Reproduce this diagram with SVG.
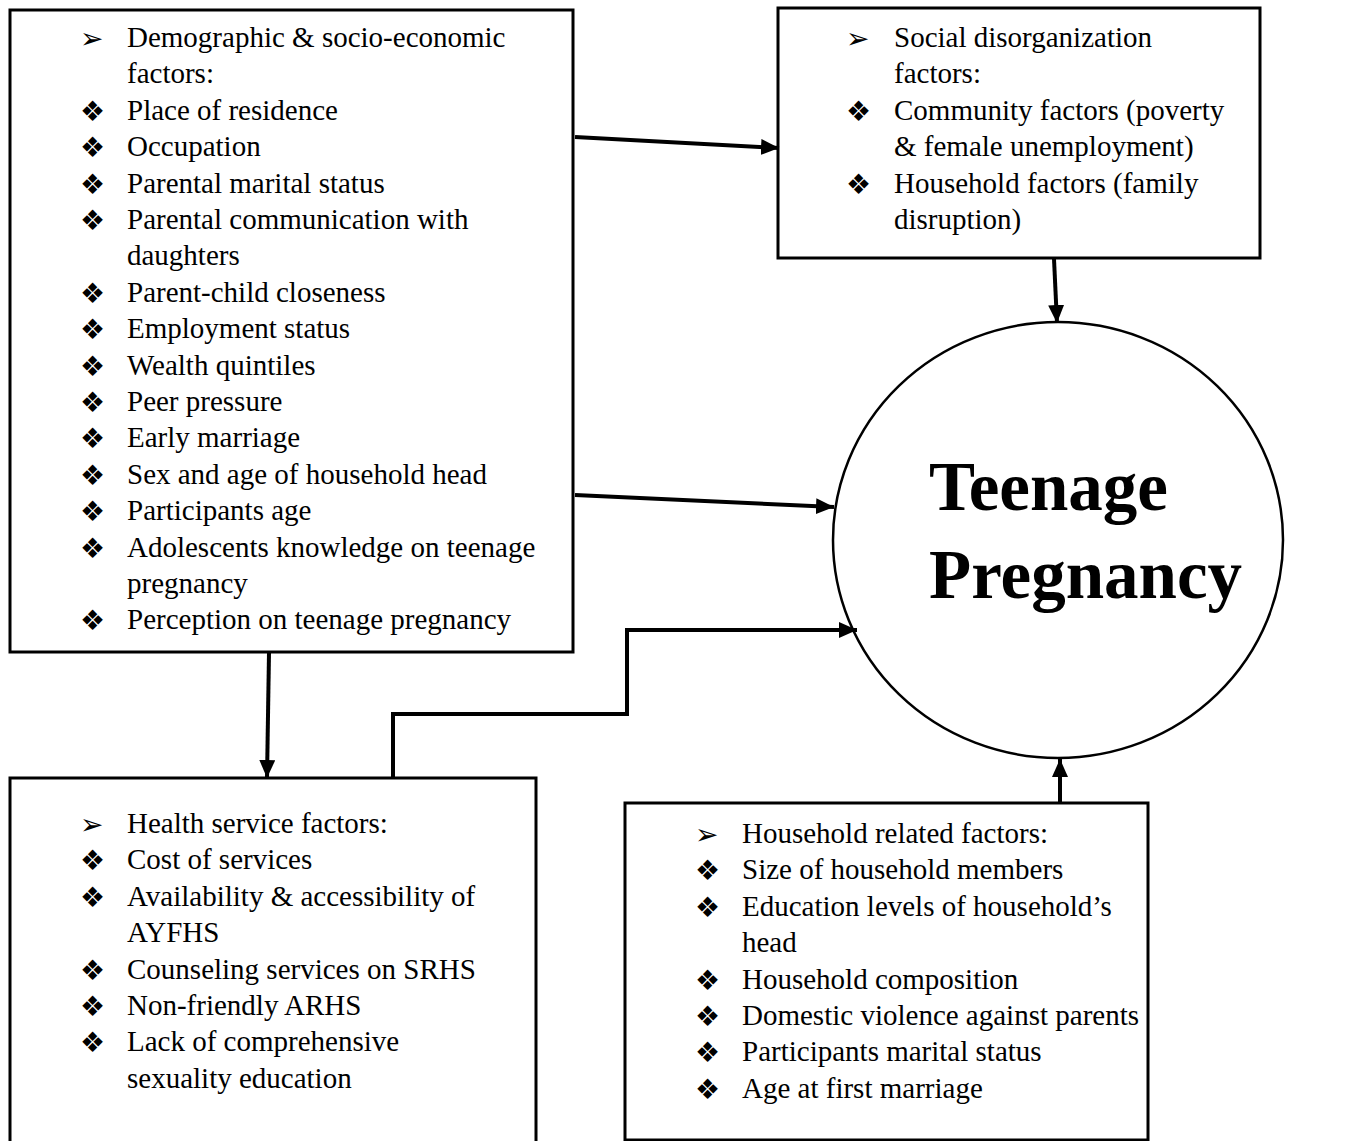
<svg xmlns="http://www.w3.org/2000/svg" width="1348" height="1141" viewBox="0 0 1348 1141">
<style>
.box{fill:#fff;stroke:#000;stroke-width:3}
.t{font-family:"Liberation Serif","Times New Roman",serif;font-size:29px;fill:#000}
.b{font-family:"DejaVu Sans",sans-serif;font-size:28px;fill:#000}
.title{font-family:"Liberation Serif","Times New Roman",serif;font-size:69px;font-weight:bold;fill:#000}
.con{fill:none;stroke:#000;stroke-width:4}
</style>
<defs>
<marker id="ah" markerUnits="userSpaceOnUse" markerWidth="20" markerHeight="16" refX="18" refY="8" orient="auto">
<path d="M0,0 L18,8 L0,16 Z" fill="#000"/>
</marker>
</defs>
<rect width="1348" height="1141" fill="#fff"/>
<g id="node-demographic">
<rect class="box" x="10" y="10" width="563" height="642"/>
<text class="b" x="80" y="48">➢</text>
<text class="t" x="127" y="47">Demographic &amp; socio-economic</text>
<text class="t" x="127" y="83.4">factors:</text>
<text class="b" x="80" y="120.8">❖</text><text class="t" x="127" y="119.8">Place of residence</text>
<text class="b" x="80" y="157.2">❖</text><text class="t" x="127" y="156.2">Occupation</text>
<text class="b" x="80" y="193.6">❖</text><text class="t" x="127" y="192.6">Parental marital status</text>
<text class="b" x="80" y="230">❖</text><text class="t" x="127" y="229">Parental communication with</text>
<text class="t" x="127" y="265.4">daughters</text>
<text class="b" x="80" y="302.8">❖</text><text class="t" x="127" y="301.8">Parent-child closeness</text>
<text class="b" x="80" y="339.2">❖</text><text class="t" x="127" y="338.2">Employment status</text>
<text class="b" x="80" y="375.6">❖</text><text class="t" x="127" y="374.6">Wealth quintiles</text>
<text class="b" x="80" y="412">❖</text><text class="t" x="127" y="411">Peer pressure</text>
<text class="b" x="80" y="448.4">❖</text><text class="t" x="127" y="447.4">Early marriage</text>
<text class="b" x="80" y="484.8">❖</text><text class="t" x="127" y="483.8">Sex and age of household head</text>
<text class="b" x="80" y="521.2">❖</text><text class="t" x="127" y="520.2">Participants age</text>
<text class="b" x="80" y="557.6">❖</text><text class="t" x="127" y="556.6">Adolescents knowledge on teenage</text>
<text class="t" x="127" y="593">pregnancy</text>
<text class="b" x="80" y="630.4">❖</text><text class="t" x="127" y="629.4">Perception on teenage pregnancy</text>
</g>
<g id="node-social">
<rect class="box" x="778" y="8" width="482" height="250"/>
<text class="b" x="846" y="48">➢</text>
<text class="t" x="894" y="47">Social disorganization</text>
<text class="t" x="894" y="83.4">factors:</text>
<text class="b" x="846" y="120.8">❖</text><text class="t" x="894" y="119.8">Community factors (poverty</text>
<text class="t" x="894" y="156.2">&amp; female unemployment)</text>
<text class="b" x="846" y="193.6">❖</text><text class="t" x="894" y="192.6">Household factors (family</text>
<text class="t" x="894" y="229">disruption)</text>
</g>
<g id="node-teenage">
<ellipse cx="1058" cy="540" rx="225" ry="218" fill="#fff" stroke="#000" stroke-width="2.5"/>
<text class="title" x="929" y="510">Teenage</text>
<text class="title" x="929" y="598">Pregnancy</text>
</g>
<g id="node-health">
<rect class="box" x="10" y="778" width="526" height="380"/>
<text class="b" x="80" y="834">➢</text>
<text class="t" x="127" y="833">Health service factors:</text>
<text class="b" x="80" y="870.4">❖</text><text class="t" x="127" y="869.4">Cost of services</text>
<text class="b" x="80" y="906.8">❖</text><text class="t" x="127" y="905.8">Availability &amp; accessibility of</text>
<text class="t" x="127" y="942.2">AYFHS</text>
<text class="b" x="80" y="979.6">❖</text><text class="t" x="127" y="978.6">Counseling services on SRHS</text>
<text class="b" x="80" y="1016">❖</text><text class="t" x="127" y="1015">Non-friendly ARHS</text>
<text class="b" x="80" y="1052.4">❖</text><text class="t" x="127" y="1051.4">Lack of comprehensive</text>
<text class="t" x="127" y="1087.8">sexuality education</text>
</g>
<g id="node-household">
<rect class="box" x="625" y="803" width="523" height="337"/>
<text class="b" x="695" y="844">➢</text>
<text class="t" x="742" y="843">Household related factors:</text>
<text class="b" x="695" y="880.4">❖</text><text class="t" x="742" y="879.4">Size of household members</text>
<text class="b" x="695" y="916.8">❖</text><text class="t" x="742" y="915.8">Education levels of household’s</text>
<text class="t" x="742" y="952.2">head</text>
<text class="b" x="695" y="989.6">❖</text><text class="t" x="742" y="988.6">Household composition</text>
<text class="b" x="695" y="1026">❖</text><text class="t" x="742" y="1025">Domestic violence against parents</text>
<text class="b" x="695" y="1062.4">❖</text><text class="t" x="742" y="1061.4">Participants marital status</text>
<text class="b" x="695" y="1098.8">❖</text><text class="t" x="742" y="1097.8">Age at first marriage</text>
</g>
<g id="connectors">
<line class="con" x1="575" y1="137" x2="779" y2="148" marker-end="url(#ah)"/>
<line class="con" x1="575" y1="495" x2="834" y2="507" marker-end="url(#ah)"/>
<line class="con" x1="1054" y1="259" x2="1057" y2="323" marker-end="url(#ah)"/>
<line class="con" x1="1060" y1="802" x2="1060" y2="759" marker-end="url(#ah)"/>
<line class="con" x1="269" y1="653" x2="267" y2="778" marker-end="url(#ah)"/>
<path class="con" d="M393,778 V714 H627 V630 H857" marker-end="url(#ah)"/>
</g>
</svg>
